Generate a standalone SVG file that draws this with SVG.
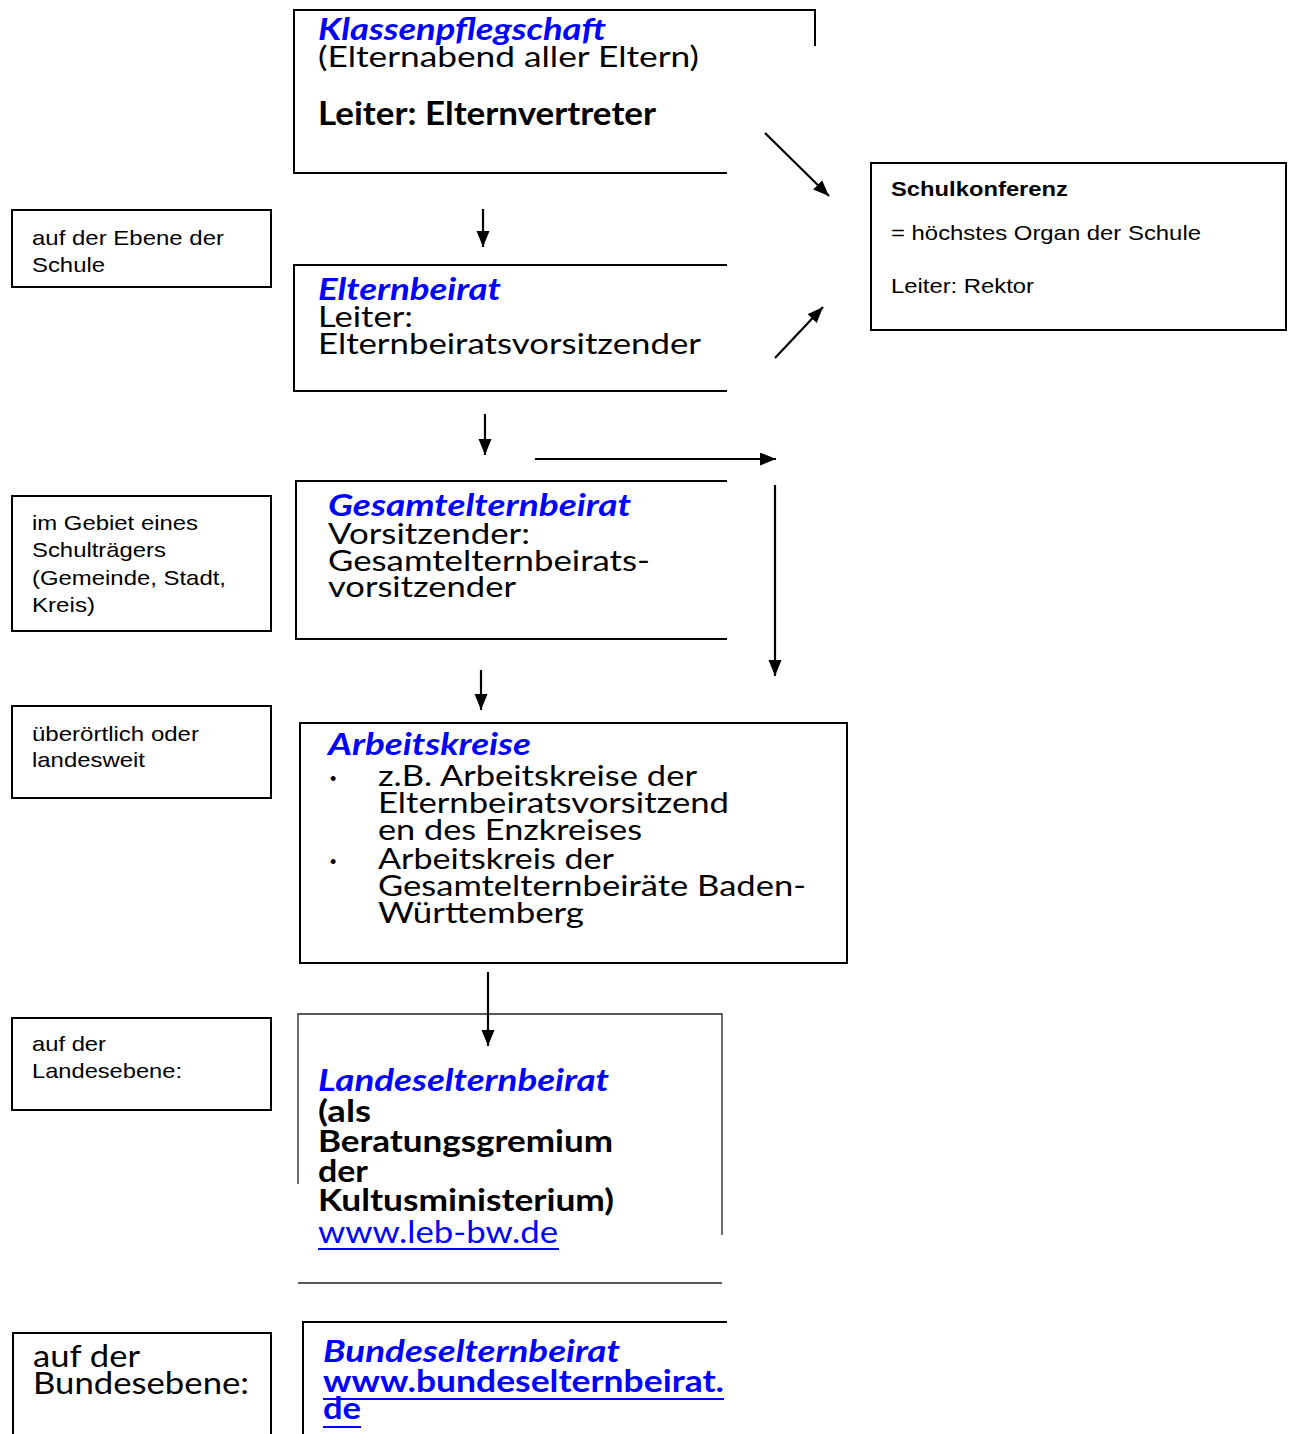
<svg xmlns="http://www.w3.org/2000/svg" width="1290" height="1434" viewBox="0 0 1290 1434">
<style>
.bx{fill:none;stroke:#000;stroke-width:2}
.thin{fill:none;stroke:#222;stroke-width:1.3}
.cal{font-family:Lato,"Open Sans",sans-serif;font-size:28px;fill:#000}
.calb{font-family:Lato,"Open Sans",sans-serif;font-size:30px;font-weight:bold;fill:#000}
.head{font-family:Lato,"Open Sans",sans-serif;font-size:30px;font-weight:bold;font-style:italic;fill:#0000FF}
.link{font-family:Lato,"Open Sans",sans-serif;font-size:28px;fill:#0000FF}
.linkb{font-family:Lato,"Open Sans",sans-serif;font-size:30px;font-weight:bold;fill:#0000FF}
.ar{font-family:"Liberation Sans",Arial,sans-serif;font-size:21px;fill:#000}
.arb{font-family:"Liberation Sans",Arial,sans-serif;font-size:21px;font-weight:bold;fill:#000}
.con{stroke:#000;stroke-width:2.2;fill:none;marker-end:url(#ah)}
.ul{stroke:#0000FF;stroke-width:2}
.bul{font-family:"Liberation Sans",Arial,sans-serif;font-size:18px;fill:#000}
</style>
<defs>
<marker id="ah" markerUnits="userSpaceOnUse" markerWidth="18" markerHeight="14" refX="16" refY="6.5" orient="auto">
<path d="M0,0 L16,6.5 L0,13 Z" fill="#000"/>
</marker>
</defs>

<g id="klassenpflegschaft">
<path class="bx" d="M815,46 V10 H294 V173 H727"/>
<text class="head" x="318" y="40" textLength="288" lengthAdjust="spacingAndGlyphs">Klassenpflegschaft</text>
<text class="cal" x="318" y="67" textLength="381" lengthAdjust="spacingAndGlyphs">(Elternabend aller Eltern)</text>
<text class="calb" x="318" y="125" style="font-size:32px" textLength="338" lengthAdjust="spacingAndGlyphs">Leiter: Elternvertreter</text>
</g>

<g id="schulkonferenz">
<rect class="bx" x="871" y="163" width="415" height="167"/>
<text class="arb" x="891" y="196" textLength="177" lengthAdjust="spacingAndGlyphs">Schulkonferenz</text>
<text class="ar" x="891" y="240" textLength="310" lengthAdjust="spacingAndGlyphs">= höchstes Organ der Schule</text>
<text class="ar" x="891" y="293" textLength="143" lengthAdjust="spacingAndGlyphs">Leiter: Rektor</text>
</g>

<g id="ebene-schule">
<rect class="bx" x="12" y="210" width="259" height="77"/>
<text class="ar" x="32" y="245" textLength="192" lengthAdjust="spacingAndGlyphs">auf der Ebene der</text>
<text class="ar" x="32" y="272" textLength="73" lengthAdjust="spacingAndGlyphs">Schule</text>
</g>

<g id="elternbeirat">
<path class="bx" d="M727,265 H294 V391 H727"/>
<text class="head" x="318" y="300" textLength="183" lengthAdjust="spacingAndGlyphs">Elternbeirat</text>
<text class="cal" x="318" y="327" textLength="95" lengthAdjust="spacingAndGlyphs">Leiter:</text>
<text class="cal" x="318" y="354" textLength="383" lengthAdjust="spacingAndGlyphs">Elternbeiratsvorsitzender</text>
</g>

<g id="gebiet-schultraeger">
<rect class="bx" x="12" y="496" width="259" height="135"/>
<text class="ar" x="32" y="530" textLength="166" lengthAdjust="spacingAndGlyphs">im Gebiet eines</text>
<text class="ar" x="32" y="557" textLength="134" lengthAdjust="spacingAndGlyphs">Schulträgers</text>
<text class="ar" x="32" y="585" textLength="194" lengthAdjust="spacingAndGlyphs">(Gemeinde, Stadt,</text>
<text class="ar" x="32" y="612" textLength="63" lengthAdjust="spacingAndGlyphs">Kreis)</text>
</g>

<g id="gesamtelternbeirat">
<path class="bx" d="M727,481 H296 V639 H727"/>
<text class="head" x="328" y="516" textLength="303" lengthAdjust="spacingAndGlyphs">Gesamtelternbeirat</text>
<text class="cal" x="328" y="544" textLength="202" lengthAdjust="spacingAndGlyphs">Vorsitzender:</text>
<text class="cal" x="328" y="571" textLength="322" lengthAdjust="spacingAndGlyphs">Gesamtelternbeirats-</text>
<text class="cal" x="328" y="597" textLength="188" lengthAdjust="spacingAndGlyphs">vorsitzender</text>
</g>

<g id="ueberoertlich">
<rect class="bx" x="12" y="706" width="259" height="92"/>
<text class="ar" x="32" y="741" textLength="167" lengthAdjust="spacingAndGlyphs">überörtlich oder</text>
<text class="ar" x="32" y="767" textLength="113" lengthAdjust="spacingAndGlyphs">landesweit</text>
</g>

<g id="arbeitskreise">
<rect class="bx" x="300" y="723" width="547" height="240"/>
<text class="head" x="328" y="755" textLength="203" lengthAdjust="spacingAndGlyphs">Arbeitskreise</text>
<text class="bul" x="330" y="785">•</text>
<text class="cal" x="378" y="786" textLength="319" lengthAdjust="spacingAndGlyphs">z.B. Arbeitskreise der</text>
<text class="cal" x="378" y="813" textLength="351" lengthAdjust="spacingAndGlyphs">Elternbeiratsvorsitzend</text>
<text class="cal" x="378" y="840" textLength="264" lengthAdjust="spacingAndGlyphs">en des Enzkreises</text>
<text class="bul" x="330" y="868">•</text>
<text class="cal" x="378" y="869" textLength="236" lengthAdjust="spacingAndGlyphs">Arbeitskreis der</text>
<text class="cal" x="378" y="896" textLength="428" lengthAdjust="spacingAndGlyphs">Gesamtelternbeiräte Baden-</text>
<text class="cal" x="378" y="923" textLength="206" lengthAdjust="spacingAndGlyphs">Württemberg</text>
</g>

<g id="landesebene">
<rect class="bx" x="12" y="1018" width="259" height="92"/>
<text class="ar" x="32" y="1051" textLength="74" lengthAdjust="spacingAndGlyphs">auf der</text>
<text class="ar" x="32" y="1078" textLength="150" lengthAdjust="spacingAndGlyphs">Landesebene:</text>
</g>

<g id="landeselternbeirat">
<path class="thin" d="M298,1184 V1014 H722 V1235"/>
<path class="thin" d="M298,1283 H722"/>
<text class="head" x="318" y="1091" textLength="291" lengthAdjust="spacingAndGlyphs">Landeselternbeirat</text>
<text class="calb" x="318" y="1122" textLength="53" lengthAdjust="spacingAndGlyphs">(als</text>
<text class="calb" x="318" y="1152" textLength="295" lengthAdjust="spacingAndGlyphs">Beratungsgremium</text>
<text class="calb" x="318" y="1182" textLength="50" lengthAdjust="spacingAndGlyphs">der</text>
<text class="calb" x="318" y="1211" textLength="296" lengthAdjust="spacingAndGlyphs">Kultusministerium)</text>
<text class="link" x="318" y="1243" style="font-size:30px" textLength="240" lengthAdjust="spacingAndGlyphs">www.leb-bw.de</text>
<line class="ul" x1="318" y1="1249" x2="559" y2="1249"/>
</g>

<g id="bundesebene">
<path class="bx" d="M13,1434 V1333 H271 V1434"/>
<text class="cal" x="33" y="1367" style="font-size:30px" textLength="107" lengthAdjust="spacingAndGlyphs">auf der</text>
<text class="cal" x="33" y="1394" style="font-size:30px" textLength="216" lengthAdjust="spacingAndGlyphs">Bundesebene:</text>
</g>

<g id="bundeselternbeirat">
<path class="bx" d="M303,1434 V1322 H727"/>
<text class="head" x="323" y="1362" textLength="297" lengthAdjust="spacingAndGlyphs">Bundeselternbeirat</text>
<text class="linkb" x="323" y="1392" textLength="401" lengthAdjust="spacingAndGlyphs">www.bundeselternbeirat.</text>
<line class="ul" x1="323" y1="1399" x2="724" y2="1399"/>
<text class="linkb" x="323" y="1419" textLength="38" lengthAdjust="spacingAndGlyphs">de</text>
<line class="ul" x1="323" y1="1427" x2="361" y2="1427"/>
</g>

<g id="connectors">
<line class="con" x1="765" y1="133" x2="829" y2="196"/>
<line class="con" x1="483" y1="209" x2="483" y2="247"/>
<line class="con" x1="775" y1="358" x2="823" y2="307"/>
<line class="con" x1="485" y1="414" x2="485" y2="455"/>
<line class="con" x1="535" y1="459" x2="776" y2="459"/>
<line class="con" x1="775" y1="485" x2="775" y2="676"/>
<line class="con" x1="481" y1="670" x2="481" y2="710"/>
<line class="con" x1="488" y1="972" x2="488" y2="1046"/>
</g>
</svg>
